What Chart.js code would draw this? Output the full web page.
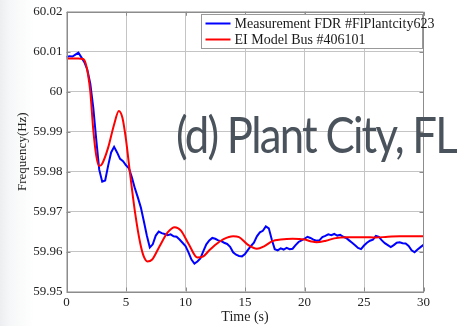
<!DOCTYPE html>
<html>
<head>
<meta charset="utf-8">
<script src="https://cdn.jsdelivr.net/npm/chart.js@4.4.1/dist/chart.umd.min.js"></script>
<style>
  html, body { margin: 0; padding: 0; }
  body {
    width: 465px; height: 326px; overflow: hidden;
    background: linear-gradient(to right, #eceef1 0px, #f6f7f8 10px, #ffffff 34px);
  }
  #wrap { position: relative; width: 465px; height: 326px; }
  canvas { display: block; }
</style>
</head>
<body>
<div id="wrap"><canvas id="c" width="465" height="326"></canvas></div>
<script>
// Frequency recorded by FDR unit at Plant City (sampled every 0.25 s)
const measurementLabel = 'Measurement FDR #FlPlantcity623';
const measurementStep = 0.25;
const measurementHz = [
  60.0087, 60.0089, 60.0088, 60.0093, 60.0098, 60.0086, 60.0074, 60.0055,
  60.0020, 59.9960, 59.9880, 59.9805, 59.9775, 59.9778, 59.9815, 59.9848,
  59.9862, 59.9848, 59.9832, 59.9826, 59.9816, 59.9808, 59.9785, 59.9758,
  59.9735, 59.9710, 59.9676, 59.9640, 59.9610, 59.9618, 59.9640, 59.9650,
  59.9646, 59.9644, 59.9641, 59.9643, 59.9638, 59.9637, 59.9630, 59.9622,
  59.9614, 59.9598, 59.9580, 59.9570, 59.9575, 59.9583, 59.9601, 59.9618,
  59.9628, 59.9634, 59.9632, 59.9628, 59.9626, 59.9622, 59.9619, 59.9612,
  59.9598, 59.9592, 59.9589, 59.9588, 59.9594, 59.9604, 59.9614, 59.9622,
  59.9638, 59.9648, 59.9652, 59.9663, 59.9658, 59.9630, 59.9606, 59.9603,
  59.9608, 59.9605, 59.9609, 59.9606, 59.9607, 59.9616, 59.9624, 59.9628,
  59.9632, 59.9637, 59.9634, 59.9630, 59.9627, 59.9628, 59.9636, 59.9639,
  59.9643, 59.9641, 59.9644, 59.9640, 59.9642, 59.9637, 59.9634, 59.9628,
  59.9622, 59.9616, 59.9609, 59.9606, 59.9615, 59.9622, 59.9627, 59.9630,
  59.9639, 59.9637, 59.9628, 59.9621, 59.9616, 59.9611, 59.9616, 59.9622,
  59.9623, 59.9621, 59.9620, 59.9614, 59.9603, 59.9598, 59.9605, 59.9611,
  59.9617
];

// Simulated frequency at EI model bus 406101
const modelLabel = 'EI Model Bus #406101';
const modelTime = [
  0, 0.5, 1.0, 1.4, 1.6, 1.8, 2.0, 2.25, 2.5, 2.75, 3.0, 3.5, 4.0, 4.4, 4.7,
  5.0, 5.3, 5.75, 6.2, 6.5, 6.8, 7.2, 7.8, 8.5, 9.1, 9.6, 10.3, 11.0, 11.5,
  12.0, 12.6, 13.2, 14.0, 14.5, 15.2, 16.0, 16.6, 17.3, 18.0, 19.0, 20.0,
  20.5, 21.0, 21.8, 22.5, 23.5, 25.0, 26.0, 27.0, 28.0, 30.0
];
const modelHz = [
  60.0083, 60.0083, 60.0083, 60.0082, 60.0072, 60.0045, 60.0000, 59.9905,
  59.9840, 59.9814, 59.9820, 59.9860, 59.9918, 59.9952, 59.9935, 59.9880,
  59.9805, 59.9700, 59.9620, 59.9587, 59.9575, 59.9580, 59.9612, 59.9648,
  59.9661, 59.9653, 59.9617, 59.9585, 59.9588, 59.9603, 59.9619, 59.9631,
  59.9638, 59.9636, 59.9618, 59.9607, 59.9613, 59.9626, 59.9630, 59.9632,
  59.9630, 59.9626, 59.9623, 59.9627, 59.9633, 59.9636, 59.9636, 59.9635,
  59.9637, 59.9638, 59.9638
];

const xTicks = [0, 5, 10, 15, 20, 25, 30];
const yTicks = [59.95, 59.96, 59.97, 59.98, 59.99, 60, 60.01, 60.02];
const yTickLabels = ['59.95', '59.96', '59.97', '59.98', '59.99', '60', '60.01', '60.02'];
const xTitle = 'Time (s)';
const yTitle = 'Frequency(Hz)';
const caption = '(d) Plant City, FL';

const measurementPoints = measurementHz.map((v, i) => ({ x: i * measurementStep, y: v }));
const modelPoints = modelHz.map((v, i) => ({ x: modelTime[i], y: v }));

const serif = '"Liberation Serif", "Times New Roman", serif';

// Axes box, inward tick marks, legend box and the caption
const decorations = {
  id: 'decorations',
  afterDatasetsDraw(chart) {
    const { ctx, chartArea: a, scales } = chart;
    ctx.save();
    ctx.strokeStyle = '#8c8c8c';
    ctx.lineWidth = 1;
    ctx.strokeRect(Math.round(a.left) + 0.5, Math.round(a.top) + 0.5,
                   Math.round(a.right - a.left) - 1, Math.round(a.bottom - a.top));
    ctx.beginPath();
    yTicks.forEach(v => {
      const y = Math.round(scales.y.getPixelForValue(v)) + 0.5;
      ctx.moveTo(a.left, y); ctx.lineTo(a.left + 4, y);
      ctx.moveTo(a.right, y); ctx.lineTo(a.right - 4, y);
    });
    xTicks.forEach(v => {
      const x = Math.round(scales.x.getPixelForValue(v)) + 0.5;
      ctx.moveTo(x, a.bottom); ctx.lineTo(x, a.bottom - 4);
      ctx.moveTo(x, a.top); ctx.lineTo(x, a.top + 4);
    });
    ctx.stroke();

    // legend
    const lx = 201.5, ly = 14.5, lw = 221, lh = 34;
    ctx.fillStyle = '#ffffff';
    ctx.fillRect(lx, ly, lw, lh);
    ctx.strokeStyle = '#999999';
    ctx.strokeRect(lx, ly, lw, lh);
    const entries = [chart.data.datasets[0], chart.data.datasets[1]];
    ctx.font = '14px ' + serif;
    ctx.textBaseline = 'middle';
    entries.forEach((ds, i) => {
      const y = ly + 9 + i * 16;
      ctx.strokeStyle = ds.borderColor;
      ctx.lineWidth = 2;
      ctx.beginPath(); ctx.moveTo(lx + 4, y); ctx.lineTo(lx + 29, y); ctx.stroke();
      ctx.fillStyle = '#1a1a1a';
      ctx.fillText(ds.label, lx + 33, y + 0.5);
    });

    // caption, tightened to span 280 px
    ctx.font = '50px Lato';
    ctx.letterSpacing = '-2px';
    ctx.textBaseline = 'alphabetic';
    const w = ctx.measureText(caption).width;
    ctx.translate(176, 153);
    ctx.scale(Math.min(1, 280 / w), 1);
    ctx.fillStyle = '#4a535c';
    ctx.fillText(caption, 0, 0);
    ctx.restore();
  }
};

new Chart(document.getElementById('c'), {
  type: 'line',
  data: {
    datasets: [
      { label: measurementLabel, data: measurementPoints, borderColor: '#0000ff',
        borderWidth: 2, pointRadius: 0, tension: 0, order: 1 },
      { label: modelLabel, data: modelPoints, borderColor: '#ff0000',
        borderWidth: 2, pointRadius: 0, tension: 0.4, cubicInterpolationMode: 'monotone', order: 0 }
    ]
  },
  options: {
    responsive: false,
    animation: false,
    events: [],
    layout: { padding: { left: 0, right: 41.5, top: 10.5, bottom: 0 } },
    plugins: { legend: { display: false }, tooltip: { enabled: false } },
    scales: {
      x: {
        type: 'linear', min: 0, max: 30,
        afterBuildTicks: s => { s.ticks = xTicks.map(v => ({ value: v })); },
        afterFit: s => { s.height = 34.5; },
        ticks: { padding: 3, color: '#222', font: { family: serif, size: 13 }, maxRotation: 0 },
        grid: { color: '#c4c4c4', borderDash: [1, 2], drawTicks: false },
        border: { display: false },
        title: { display: true, text: xTitle, color: '#222',
                 font: { family: serif, size: 14 }, padding: { top: 1, bottom: 0 } }
      },
      y: {
        type: 'linear', min: 59.95, max: 60.02,
        afterBuildTicks: s => { s.ticks = yTicks.map(v => ({ value: v })); },
        afterFit: s => { s.width = 66.5; },
        ticks: { padding: 4, color: '#222', font: { family: serif, size: 13 },
                 callback: (v, i) => yTickLabels[i] },
        grid: { color: '#c4c4c4', borderDash: [1, 2], drawTicks: false },
        border: { display: false },
        title: { display: true, text: yTitle, color: '#222',
                 font: { family: serif, size: 13 }, padding: { top: 15, bottom: 0 } }
      }
    }
  },
  plugins: [decorations]
});
</script>
</body>
</html>
